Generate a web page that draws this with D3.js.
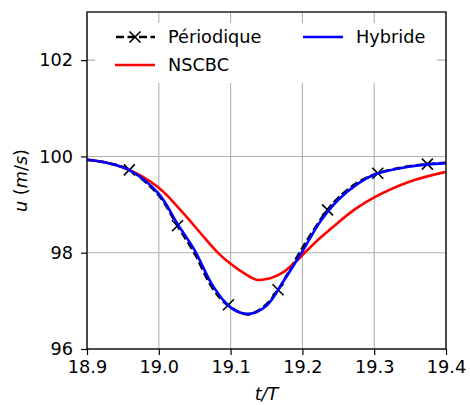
<!DOCTYPE html>
<html>
<head>
<meta charset="utf-8">
<script src="https://cdn.jsdelivr.net/npm/d3@7/dist/d3.min.js"></script>
<style>
  html, body { margin: 0; padding: 0; background: #fff; }
  svg text { font-family: "DejaVu Sans", sans-serif; fill: #000; }
</style>
</head>
<body>
<svg id="chart" width="470" height="405"></svg>
<script>
// ---- data ----
const xTicks = [18.9, 19.0, 19.1, 19.2, 19.3, 19.4];
const yTicks = [96, 98, 100, 102];

const hybT = [18.9, 18.93, 18.96, 19.0, 19.026, 19.05, 19.075, 19.1, 19.125, 19.15, 19.175, 19.2, 19.225, 19.25, 19.275, 19.3, 19.35, 19.4];
const hybU = [99.93, 99.86, 99.71, 99.22, 98.60, 98.05, 97.32, 96.86, 96.73, 96.90, 97.44, 98.03, 98.65, 99.10, 99.41, 99.62, 99.79, 99.86];

const nscT = [18.9, 18.925, 18.95, 18.975, 19.0, 19.016, 19.039, 19.062, 19.085, 19.1, 19.118, 19.136, 19.155, 19.173, 19.192, 19.206, 19.225, 19.25, 19.275, 19.3, 19.35, 19.4];
const nscU = [99.93, 99.88, 99.77, 99.60, 99.35, 99.12, 98.74, 98.34, 97.96, 97.77, 97.58, 97.44, 97.47, 97.59, 97.83, 98.04, 98.31, 98.63, 98.92, 99.15, 99.48, 99.68];

const perT = [18.9, 18.93, 18.959, 19.0, 19.026, 19.05, 19.075, 19.097, 19.125, 19.15, 19.166, 19.2, 19.235, 19.25, 19.275, 19.305, 19.35, 19.374, 19.4];
const perU = [99.93, 99.86, 99.72, 99.19, 98.56, 97.98, 97.26, 96.90, 96.72, 96.93, 97.23, 98.10, 98.89, 99.14, 99.44, 99.65, 99.80, 99.84, 99.87];
const perMarkT = [18.959, 19.026, 19.097, 19.166, 19.235, 19.305, 19.374];
const perMarkU = [99.72, 98.56, 96.92, 97.23, 98.89, 99.65, 99.84];

const legendLabels = ["Périodique", "NSCBC", "Hybride"];

// ---- layout ----
const FS = "17.7px";
const svg = d3.select("#chart");
const L = 87, R = 446, T = 12, B = 349;
const x = d3.scaleLinear().domain([18.9, 19.4]).range([L, R]);
const y = d3.scaleLinear().domain([96, 103]).range([B, T]);

// grid
const grid = svg.append("g");
grid.selectAll("line.gx").data(xTicks).join("line")
  .attr("x1", d => x(d)).attr("x2", d => x(d)).attr("y1", T).attr("y2", B)
  .attr("stroke", "#b0b0b0").attr("stroke-width", 1.1);
grid.selectAll("line.gy").data(yTicks).join("line")
  .attr("y1", d => y(d)).attr("y2", d => y(d)).attr("x1", L).attr("x2", R)
  .attr("stroke", "#b0b0b0").attr("stroke-width", 1.1);

// clip
svg.append("clipPath").attr("id", "clip").append("rect")
  .attr("x", L).attr("y", T).attr("width", R - L).attr("height", B - T);

const line = d3.line().x(d => x(d[0])).y(d => y(d[1])).curve(d3.curveCatmullRom.alpha(0.5));
const plot = svg.append("g").attr("clip-path", "url(#clip)");

const per = perT.map((t, i) => [t, perU[i]]);
const nsc = nscT.map((t, i) => [t, nscU[i]]);
const hyb = hybT.map((t, i) => [t, hybU[i]]);

plot.append("path").attr("d", line(per)).attr("fill", "none")
  .attr("stroke", "#000").attr("stroke-width", 2.6).attr("stroke-dasharray", "8,3.5");
const marks = perMarkT.map((t, i) => [t, perMarkU[i]]);
const xs = 5.5;
plot.selectAll("path.mk").data(marks).join("path")
  .attr("d", d => `M${x(d[0]) - xs},${y(d[1]) - xs}L${x(d[0]) + xs},${y(d[1]) + xs}M${x(d[0]) - xs},${y(d[1]) + xs}L${x(d[0]) + xs},${y(d[1]) - xs}`)
  .attr("stroke", "#000").attr("stroke-width", 1.6).attr("fill", "none");
plot.append("path").attr("d", line(nsc)).attr("fill", "none")
  .attr("stroke", "#ff0000").attr("stroke-width", 2.6);
plot.append("path").attr("d", line(hyb)).attr("fill", "none")
  .attr("stroke", "#0000ff").attr("stroke-width", 2.6);

// axes
const xAxis = d3.axisBottom(x).tickValues(xTicks).tickFormat(d3.format(".1f")).tickSizeOuter(0).tickSize(6).tickPadding(5);
const yAxis = d3.axisLeft(y).tickValues(yTicks).tickFormat(d3.format("d")).tickSizeOuter(0).tickSize(6).tickPadding(8);
const gx = svg.append("g").attr("transform", `translate(0,${B})`).call(xAxis);
const gy = svg.append("g").attr("transform", `translate(${L},0)`).call(yAxis);
[gx, gy].forEach(g => {
  g.select(".domain").remove();
  g.selectAll(".tick line").attr("stroke", "#000").attr("stroke-width", 1.2);
  g.selectAll(".tick text").style("font-size", FS).style("font-family", "DejaVu Sans");
});
svg.append("rect").attr("x", L).attr("y", T).attr("width", R - L).attr("height", B - T)
  .attr("fill", "none").attr("stroke", "#000").attr("stroke-width", 1.3);

// axis labels
svg.append("text").attr("x", (L + R) / 2).attr("y", 400).attr("text-anchor", "middle")
  .style("font-size", FS).style("font-style", "italic").text("t/T");
const yl = svg.append("text").attr("transform", `translate(27,${(T + B) / 2}) rotate(-90)`)
  .attr("text-anchor", "middle").style("font-size", FS);
yl.append("tspan").style("font-style", "italic").text("u");
yl.append("tspan").text(" (");
yl.append("tspan").style("font-style", "italic").text("m");
yl.append("tspan").text("/");
yl.append("tspan").style("font-style", "italic").text("s");
yl.append("tspan").text(")");

// legend
const lg = svg.append("g");
lg.append("rect").attr("x", 95).attr("y", 23).attr("width", 342).attr("height", 60)
  .attr("fill", "#fff").attr("stroke", "none");
const entries = [
  { label: legendLabels[0], color: "#000", dash: "8,3.5", marker: true, x: 115, y: 37 },
  { label: legendLabels[1], color: "#ff0000", dash: null, marker: false, x: 115, y: 65 },
  { label: legendLabels[2], color: "#0000ff", dash: null, marker: false, x: 303, y: 37 }
];
entries.forEach(e => {
  const ln = lg.append("line").attr("x1", e.x).attr("x2", e.x + 40).attr("y1", e.y).attr("y2", e.y)
    .attr("stroke", e.color).attr("stroke-width", 2.6);
  if (e.dash) ln.attr("stroke-dasharray", e.dash).attr("stroke-dashoffset", -1);
  if (e.marker) {
    const cx = e.x + 20;
    lg.append("path").attr("d", `M${cx - xs},${e.y - xs}L${cx + xs},${e.y + xs}M${cx - xs},${e.y + xs}L${cx + xs},${e.y - xs}`)
      .attr("stroke", "#000").attr("stroke-width", 1.6);
  }
  lg.append("text").attr("x", e.x + 53).attr("y", e.y + 6).style("font-size", FS).text(e.label);
});
</script>
</body>
</html>
